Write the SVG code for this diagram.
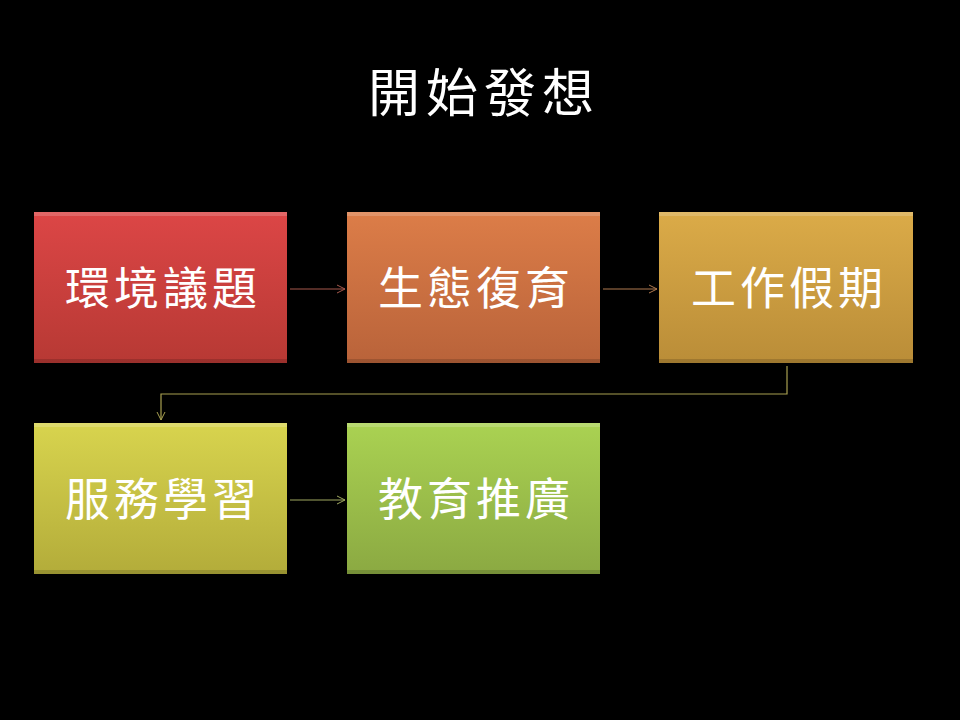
<svg xmlns="http://www.w3.org/2000/svg" width="960" height="720" viewBox="0 0 960 720">
<defs>
<linearGradient id="g1" x1="0" y1="0" x2="0" y2="1"><stop offset="0" stop-color="#dc4646"/><stop offset="1" stop-color="#b73934"/></linearGradient>
<linearGradient id="g2" x1="0" y1="0" x2="0" y2="1"><stop offset="0" stop-color="#dc7d48"/><stop offset="1" stop-color="#b9633a"/></linearGradient>
<linearGradient id="g3" x1="0" y1="0" x2="0" y2="1"><stop offset="0" stop-color="#dbab48"/><stop offset="1" stop-color="#ba8d38"/></linearGradient>
<linearGradient id="g4" x1="0" y1="0" x2="0" y2="1"><stop offset="0" stop-color="#d8d44e"/><stop offset="1" stop-color="#b3ac3a"/></linearGradient>
<linearGradient id="g5" x1="0" y1="0" x2="0" y2="1"><stop offset="0" stop-color="#aad252"/><stop offset="1" stop-color="#8ba942"/></linearGradient>
<marker id="a1" markerWidth="10" markerHeight="10" refX="9" refY="5" orient="auto" markerUnits="userSpaceOnUse"><path d="M1,1 L9,5 L1,9" fill="none" stroke="#a5594c" stroke-width="1"/></marker>
<marker id="a2" markerWidth="10" markerHeight="10" refX="9" refY="5" orient="auto" markerUnits="userSpaceOnUse"><path d="M1,1 L9,5 L1,9" fill="none" stroke="#b07a50" stroke-width="1"/></marker>
<marker id="a3" markerWidth="10" markerHeight="10" refX="9" refY="5" orient="auto" markerUnits="userSpaceOnUse"><path d="M1,1 L9,5 L1,9" fill="none" stroke="#a8a050" stroke-width="1"/></marker>
<marker id="a4" markerWidth="10" markerHeight="10" refX="9" refY="5" orient="auto" markerUnits="userSpaceOnUse"><path d="M1,1 L9,5 L1,9" fill="none" stroke="#a0a860" stroke-width="1"/></marker>
</defs>
<style>
.lbl{font-family:"Noto Sans CJK TC","Noto Sans CJK SC",sans-serif;font-size:45px;fill:#ffffff;text-anchor:middle;letter-spacing:4px}
.ttl{font-family:"Noto Sans CJK TC","Noto Sans CJK SC",sans-serif;font-size:52px;fill:#ffffff;text-anchor:middle;letter-spacing:6px}
.edge{fill:none;stroke-width:1.2}
.hl{fill:#ffffff;opacity:0.18}
.sh{fill:#000000;opacity:0.15}
</style>
<rect width="960" height="720" fill="#000000"/>
<text class="ttl" x="484" y="112">開始發想</text>
<g id="n1">
<rect x="34" y="212" width="253" height="151" fill="url(#g1)"/>
<rect class="hl" x="34" y="212" width="253" height="4"/>
<rect class="sh" x="34" y="359" width="253" height="4"/>
<text class="lbl" x="163" y="305">環境議題</text>
</g>
<g id="n2">
<rect x="347" y="212" width="253" height="151" fill="url(#g2)"/>
<rect class="hl" x="347" y="212" width="253" height="4"/>
<rect class="sh" x="347" y="359" width="253" height="4"/>
<text class="lbl" x="476" y="305">生態復育</text>
</g>
<g id="n3">
<rect x="659" y="212" width="254" height="151" fill="url(#g3)"/>
<rect class="hl" x="659" y="212" width="254" height="4"/>
<rect class="sh" x="659" y="359" width="254" height="4"/>
<text class="lbl" x="789" y="305">工作假期</text>
</g>
<g id="n4">
<rect x="34" y="423" width="253" height="151" fill="url(#g4)"/>
<rect class="hl" x="34" y="423" width="253" height="4"/>
<rect class="sh" x="34" y="570" width="253" height="4"/>
<text class="lbl" x="163" y="516">服務學習</text>
</g>
<g id="n5">
<rect x="347" y="423" width="253" height="151" fill="url(#g5)"/>
<rect class="hl" x="347" y="423" width="253" height="4"/>
<rect class="sh" x="347" y="570" width="253" height="4"/>
<text class="lbl" x="476" y="516">教育推廣</text>
</g>
<g id="edges">
<path class="edge" d="M290,289 L345,289" stroke="#a5594c" marker-end="url(#a1)"/>
<path class="edge" d="M603,289 L657,289" stroke="#b07a50" marker-end="url(#a2)"/>
<path class="edge" d="M787,366 L787,394 L161,394 L161,420" stroke="#a8a050" marker-end="url(#a3)"/>
<path class="edge" d="M290,500 L345,500" stroke="#a0a860" marker-end="url(#a4)"/>
</g>
</svg>
